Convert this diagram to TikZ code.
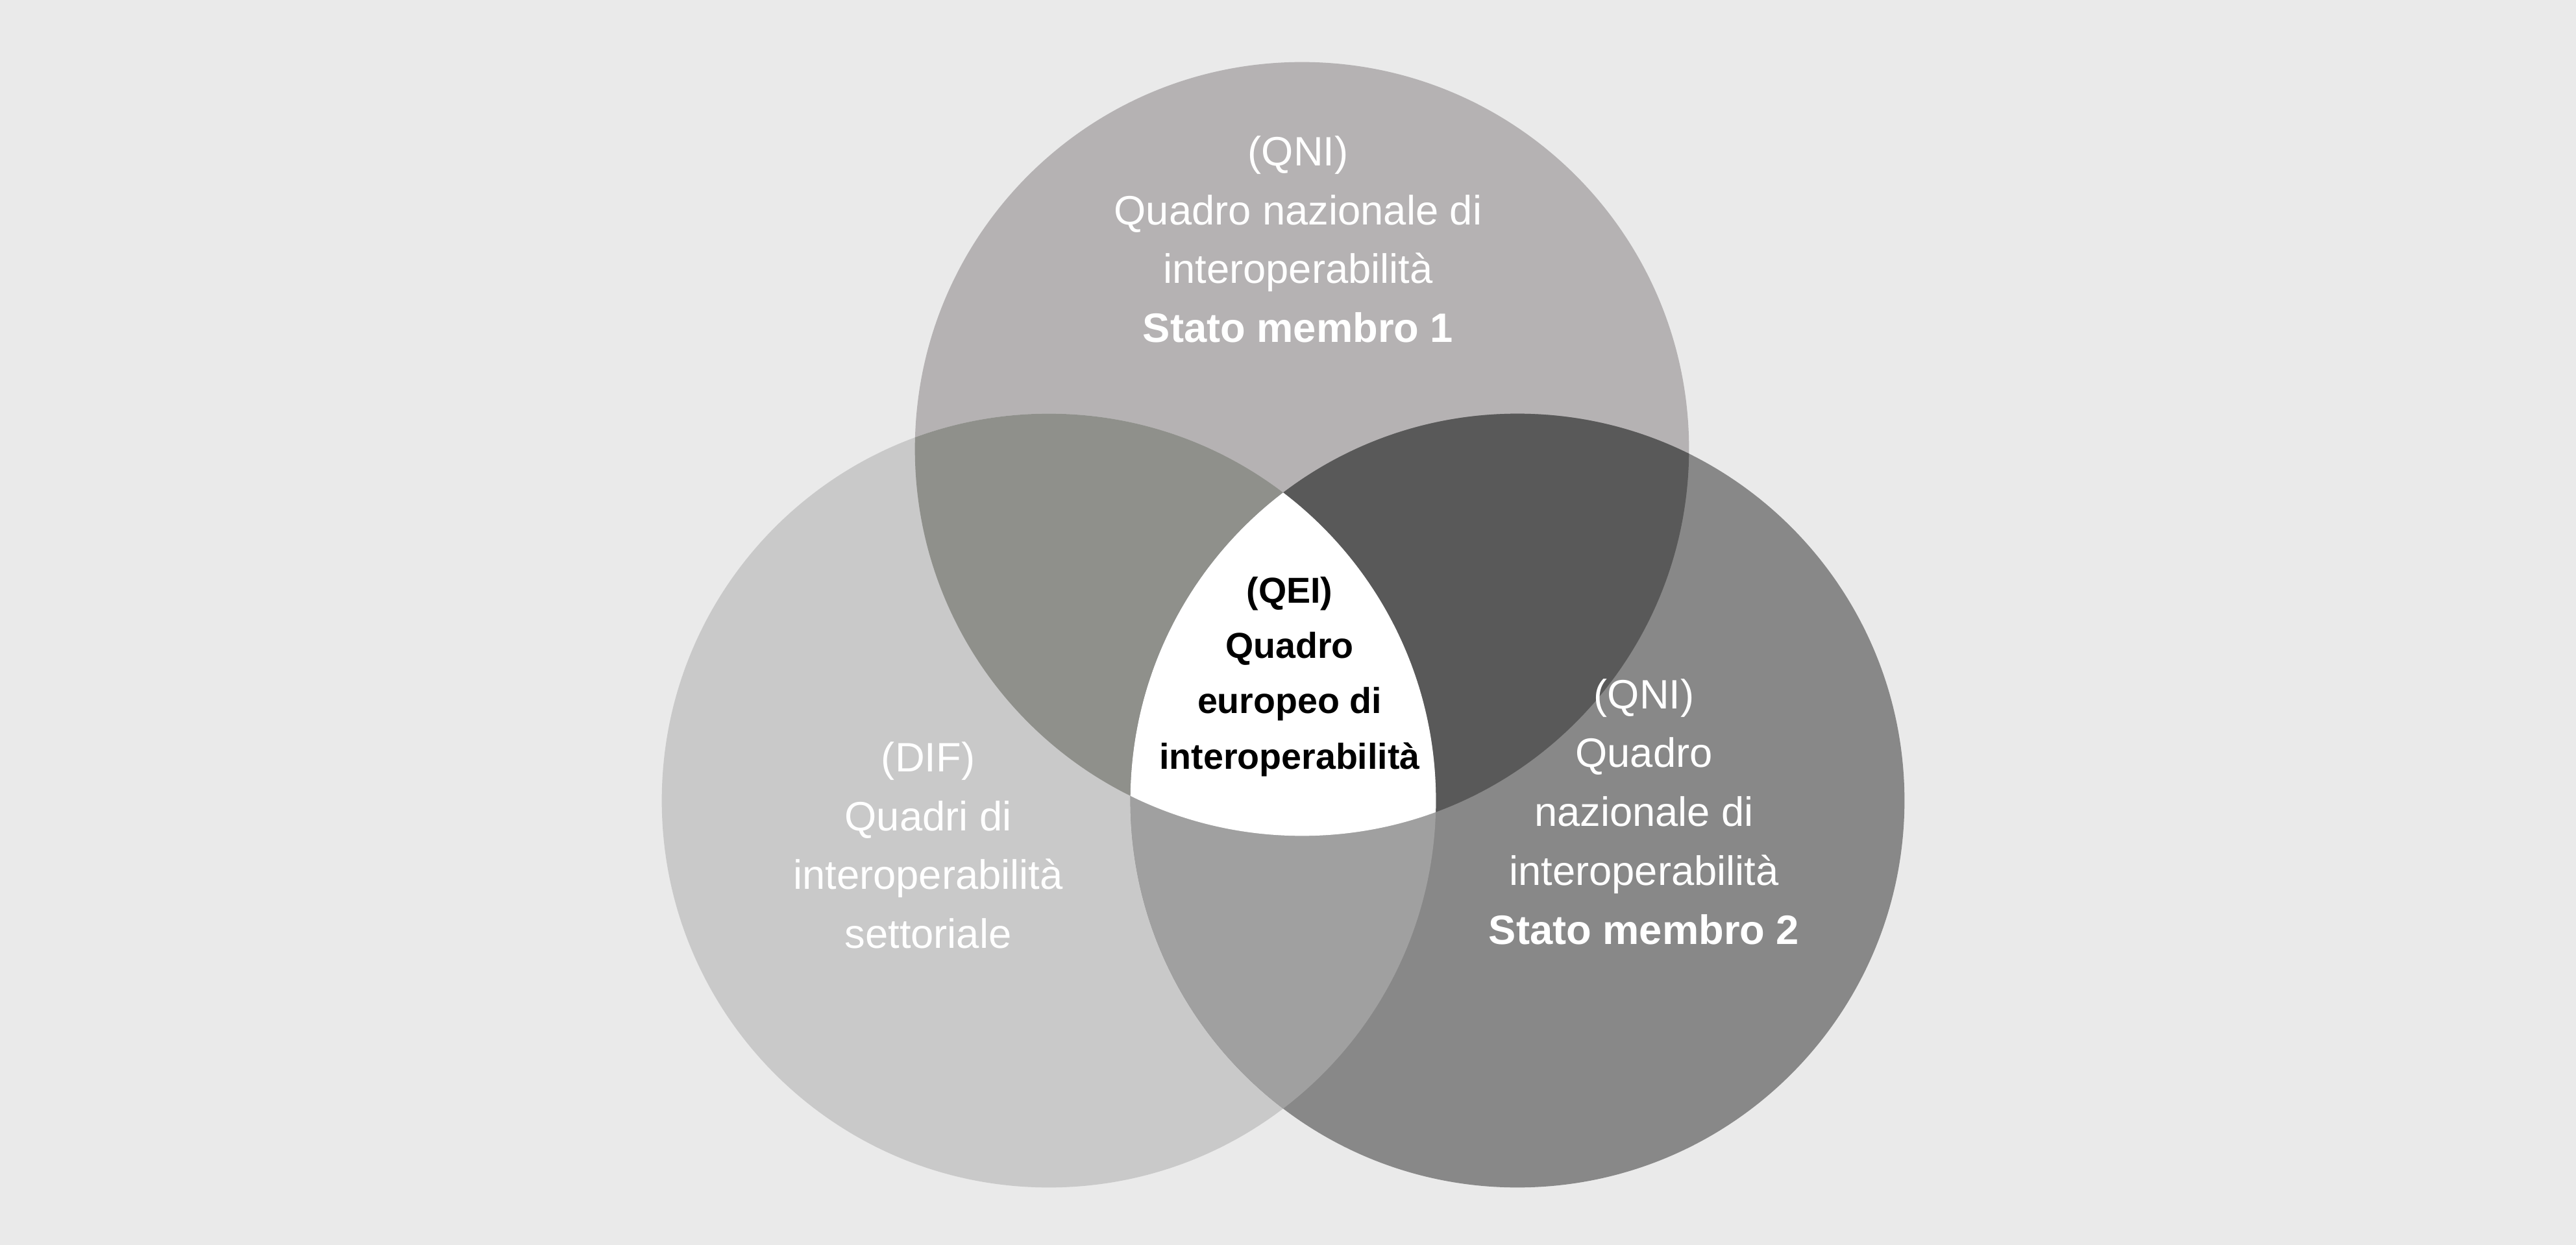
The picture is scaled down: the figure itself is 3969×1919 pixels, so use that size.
\documentclass[tikz,border=0pt]{standalone}
\usepackage{fontspec}
\setmainfont{Liberation Sans}
\usetikzlibrary{positioning}
\usepackage{xcolor}

\definecolor{bggray}{HTML}{EAEAEA}
\definecolor{topgray}{HTML}{B5B2B3}
\definecolor{leftgray}{HTML}{C9C9C9}
\definecolor{rightgray}{HTML}{888888}
\definecolor{tlgray}{HTML}{8F908B}
\definecolor{trgray}{HTML}{595959}
\definecolor{lrgray}{HTML}{A0A0A0}

\tikzset{
  setlabel/.style={text=white, align=center, font=\fontsize{18}{25.8}\selectfont},
  corelabel/.style={text=black, align=center, font=\fontsize{15.8}{24.2}\selectfont\bfseries}
}

\begin{document}
\begin{tikzpicture}[x=0.01cm,y=-0.01cm]
\useasboundingbox (0,0) rectangle (3969,1919);
\fill[bggray] (0,0) rectangle (3969,1919);

% centres of the three sets
\coordinate (ctop) at (2006,692);
\coordinate (cleft) at (1616,1234);
\coordinate (cright) at (2338,1234);

% single sets
\fill[topgray] (ctop) circle[radius=5.96cm];
\fill[leftgray] (cleft) circle[radius=5.96cm];
\fill[rightgray] (cright) circle[radius=5.96cm];

% pairwise overlaps
\begin{scope}
  \clip (ctop) circle[radius=5.96cm];
  \fill[tlgray] (cleft) circle[radius=5.96cm];
\end{scope}
\begin{scope}
  \clip (ctop) circle[radius=5.96cm];
  \fill[trgray] (cright) circle[radius=5.96cm];
\end{scope}
\begin{scope}
  \clip (cleft) circle[radius=5.96cm];
  \fill[lrgray] (cright) circle[radius=5.96cm];
\end{scope}

% common part of all three
\begin{scope}
  \clip (ctop) circle[radius=5.96cm];
  \clip (cleft) circle[radius=5.96cm];
  \fill[white] (cright) circle[radius=5.96cm];
\end{scope}

% labels
\node[setlabel] (qni1) at (2000,369) {(QNI)\\Quadro nazionale di\\interoperabilità\\\textbf{Stato membro 1}};
\node[setlabel] (dif) at (1430,1303) {(DIF)\\Quadri di\\interoperabilità\\settoriale};
\node[setlabel] (qni2) at (2533,1251) {(QNI)\\Quadro\\nazionale di\\interoperabilità\\\textbf{Stato membro 2}};
\node[corelabel] (qei) at (1987,1043) {(QEI)\\Quadro\\europeo di\\interoperabilità};
\end{tikzpicture}
\end{document}
